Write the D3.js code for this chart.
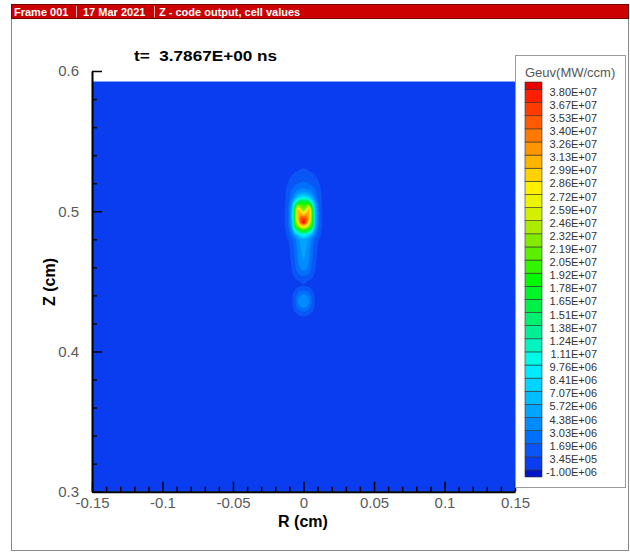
<!DOCTYPE html>
<html><head><meta charset="utf-8">
<script src="https://cdn.jsdelivr.net/npm/d3@7"></script>
<style>
body{margin:0;background:#fff;}
svg{display:block;font-family:"Liberation Sans",Arial,sans-serif;}
</style></head><body>
<svg id="chart" width="630" height="552"></svg>
<script>
// ---------- data ----------
const headerParts = ["Frame 001", "17 Mar 2021", "Z - code output, cell values"];
const titleText = "t=  3.7867E+00 ns";
const xLabel = "R (cm)";
const yLabel = "Z (cm)";
const legendTitle = "Geuv(MW/ccm)";

const xTicks = [-0.15, -0.1, -0.05, 0, 0.05, 0.1, 0.15];
const xTickLabels = ["-0.15", "-0.1", "-0.05", "0", "0.05", "0.1", "0.15"];
const yTicks = [0.3, 0.4, 0.5, 0.6];
const yTickLabels = ["0.3", "0.4", "0.5", "0.6"];

// contour levels (ascending) and their legend labels
const levels = [-1.00e6, 3.45e5, 1.69e6, 3.03e6, 4.38e6, 5.72e6, 7.07e6, 8.41e6, 9.76e6,
  1.11e7, 1.24e7, 1.38e7, 1.51e7, 1.65e7, 1.78e7, 1.92e7, 2.05e7, 2.19e7, 2.32e7, 2.46e7,
  2.59e7, 2.72e7, 2.86e7, 2.99e7, 3.13e7, 3.26e7, 3.40e7, 3.53e7, 3.67e7, 3.80e7];
const levelLabels = ["-1.00E+06", "3.45E+05", "1.69E+06", "3.03E+06", "4.38E+06", "5.72E+06",
  "7.07E+06", "8.41E+06", "9.76E+06", "1.11E+07", "1.24E+07", "1.38E+07", "1.51E+07",
  "1.65E+07", "1.78E+07", "1.92E+07", "2.05E+07", "2.19E+07", "2.32E+07", "2.46E+07",
  "2.59E+07", "2.72E+07", "2.86E+07", "2.99E+07", "3.13E+07", "3.26E+07", "3.40E+07",
  "3.53E+07", "3.67E+07", "3.80E+07"];
// band colours, lowest band (below -1e6) first
const bandColors = ["#0014c8", "#0a3cf0", "#0a55f5", "#0070fa", "#008cff", "#00a5ff",
  "#00beff", "#00d4ff", "#00ebff", "#00fae6", "#00f5c0", "#00f096", "#00f070", "#00f04a",
  "#00f528", "#00fa00", "#32f500", "#5af000", "#82eb00", "#aaeb00", "#d2f000", "#ebf500",
  "#fff000", "#ffd200", "#ffb400", "#ff9600", "#ff7800", "#ff5a00", "#ff3c00", "#ff1e00",
  "#e60000"];

// domain of the computed field
const rDomain = [-0.15, 0.15];
const zDomain = [0.3, 0.5925];
const backgroundValue = 0;

// half grid (r >= 0), mirrored about the axis r = 0
const rHalf = [0, 0.002, 0.004, 0.006, 0.008, 0.010, 0.012, 0.014, 0.016];
const zRows = [0.534, 0.531, 0.528, 0.525, 0.522, 0.519, 0.516, 0.513, 0.510, 0.507,
  0.504, 0.501, 0.498, 0.495, 0.492, 0.489, 0.486, 0.483, 0.480, 0.477, 0.474, 0.471,
  0.468, 0.465, 0.462, 0.459, 0.456, 0.453, 0.450, 0.447, 0.444, 0.441, 0.438, 0.435,
  0.432, 0.429, 0.426, 0.423, 0.420];
// Geuv values in units of 1e6 MW/ccm, one row per zRows entry, one column per rHalf entry
const geuvHalf = [
  [0, 0, 0, 0, 0, 0, 0, 0, 0],
  [0.3, 0.2, 0, 0, 0, 0, 0, 0, 0],
  [0.8, 0.7, 0.5, 0.3, 0, 0, 0, 0, 0],
  [1.2, 1.1, 1.0, 0.8, 0.5, 0, 0, 0, 0],
  [1.6, 1.5, 1.4, 1.2, 0.9, 0.5, 0, 0, 0],
  [2.0, 1.9, 1.8, 1.6, 1.3, 0.8, 0.2, 0, 0],
  [3.2, 3.0, 2.6, 2.2, 1.7, 1.1, 0.4, 0, 0],
  [5.0, 4.6, 4.0, 3.2, 2.2, 1.4, 0.5, 0, 0],
  [9.0, 8.5, 7.0, 5.0, 3.0, 1.6, 0.6, 0, 0],
  [17, 16, 14, 9, 4.5, 2.0, 0.7, 0, 0],
  [20, 21, 24, 15, 6, 2.4, 0.8, 0, 0],
  [22, 26, 31, 20, 7, 2.6, 0.9, 0.1, 0],
  [29, 31, 31, 21, 7.5, 2.8, 1.0, 0.1, 0],
  [36, 35, 30, 21, 7.5, 2.8, 1.0, 0.1, 0],
  [39, 35, 27, 20, 7, 2.6, 0.9, 0.1, 0],
  [28, 26, 22, 18, 6, 2.4, 0.8, 0, 0],
  [18, 17, 14, 10, 4.5, 2.0, 0.6, 0, 0],
  [10, 9, 7, 5, 3, 1.4, 0.4, 0, 0],
  [5.5, 5.0, 4.0, 2.8, 1.6, 0.7, 0, 0, 0],
  [5.0, 4.6, 3.6, 2.4, 1.2, 0.4, 0, 0, 0],
  [4.8, 4.4, 3.4, 2.2, 1.0, 0.3, 0, 0, 0],
  [4.6, 4.2, 3.2, 2.0, 0.9, 0.2, 0, 0, 0],
  [4.6, 4.2, 3.2, 2.0, 0.8, 0.2, 0, 0, 0],
  [4.4, 4.0, 3.0, 1.8, 0.7, 0, 0, 0, 0],
  [4.0, 3.7, 2.8, 1.6, 0.6, 0, 0, 0, 0],
  [3.4, 3.1, 2.4, 1.4, 0.5, 0, 0, 0, 0],
  [2.6, 2.4, 1.8, 1.0, 0.3, 0, 0, 0, 0],
  [1.4, 1.3, 0.9, 0.5, 0, 0, 0, 0, 0],
  [0.5, 0.4, 0.2, 0, 0, 0, 0, 0, 0],
  [0.3, 0.2, 0, 0, 0, 0, 0, 0, 0],
  [1.5, 1.3, 0.9, 0.4, 0, 0, 0, 0, 0],
  [3.0, 2.7, 2.0, 1.0, 0.2, 0, 0, 0, 0],
  [4.2, 3.8, 2.8, 1.4, 0.3, 0, 0, 0, 0],
  [4.4, 4.0, 3.0, 1.5, 0.3, 0, 0, 0, 0],
  [3.6, 3.2, 2.4, 1.2, 0.2, 0, 0, 0, 0],
  [2.0, 1.8, 1.3, 0.6, 0, 0, 0, 0, 0],
  [0.6, 0.5, 0.3, 0, 0, 0, 0, 0, 0],
  [0, 0, 0, 0, 0, 0, 0, 0, 0],
  [0, 0, 0, 0, 0, 0, 0, 0, 0]
];

// ---------- drawing ----------
const svg = d3.select("#chart");

// panel frame
svg.append("rect").attr("x", 11.5).attr("y", 4.5).attr("width", 617).attr("height", 546)
  .attr("fill", "#fff").attr("stroke", "#8a8a8a").attr("stroke-width", 1);

// header bar
svg.append("rect").attr("x", 11.5).attr("y", 4.5).attr("width", 617).attr("height", 14)
  .attr("fill", "#cc0000").attr("stroke", "#7a0000").attr("stroke-width", 1);
const hdrX = [14, 83, 159];
const sepX = [76.5, 154.5];
headerParts.forEach((t, i) => {
  svg.append("text").attr("x", hdrX[i]).attr("y", 15.5).attr("fill", "#fff")
    .attr("font-size", 11).attr("font-weight", "bold").text(t);
});
sepX.forEach(sx => svg.append("line").attr("x1", sx).attr("x2", sx).attr("y1", 6).attr("y2", 17.5)
  .attr("stroke", "#f0b0b0").attr("stroke-width", 1));

// scales
const x = d3.scaleLinear().domain(rDomain).range([92, 515]);
const y = d3.scaleLinear().domain([0.3, 0.6]).range([491.7, 71]);
const color = d3.scaleThreshold().domain(levels).range(bandColors);

// background field
svg.append("rect")
  .attr("x", x(rDomain[0])).attr("y", y(zDomain[1]))
  .attr("width", x(rDomain[1]) - x(rDomain[0])).attr("height", y(zDomain[0]) - y(zDomain[1]))
  .attr("fill", color(backgroundValue));

// build full mirrored grid
const nh = rHalf.length;
const nx = nh * 2 - 1, ny = zRows.length;
const values = new Array(nx * ny);
for (let j = 0; j < ny; j++) {
  for (let i = 0; i < nx; i++) {
    values[j * nx + i] = geuvHalf[j][Math.abs(i - (nh - 1))] * 1e6;
  }
}
const dr = rHalf[1] - rHalf[0];
const dz = zRows[1] - zRows[0];
const r0 = -rHalf[nh - 1];
const proj = d3.geoTransform({
  point: function (px, py) {
    this.stream.point(x(r0 + (px - 0.5) * dr), y(zRows[0] + (py - 0.5) * dz));
  }
});
const path = d3.geoPath(proj);
const thr = levels.filter(v => v > backgroundValue);
const contours = d3.contours().size([nx, ny]).thresholds(thr)(values);
svg.append("g").selectAll("path").data(contours).join("path")
  .attr("d", path)
  .attr("fill", d => color(d.value));

// axes
const tickColor = "#5a5a5a";
const gx = svg.append("g").attr("transform", `translate(0,${y(0.3)})`)
  .call(d3.axisBottom(x).tickValues(xTicks).tickFormat((d, i) => xTickLabels[i])
    .tickSize(-10).tickSizeOuter(0).tickPadding(6));
const minorX = d3.range(-15, 16).filter(k => k % 5 !== 0).map(k => k / 100);
svg.append("g").attr("transform", `translate(0,${y(0.3)})`)
  .call(d3.axisBottom(x).tickValues(minorX).tickFormat("").tickSize(-5).tickSizeOuter(0))
  .select(".domain").remove();

const gy = svg.append("g").attr("transform", `translate(${x(-0.15)},0)`)
  .call(d3.axisLeft(y).tickValues(yTicks).tickFormat((d, i) => yTickLabels[i])
    .tickSize(-10).tickSizeOuter(0).tickPadding(13));
const minorY = d3.range(30, 61, 2).filter(k => k % 10 !== 0).map(k => k / 100);
svg.append("g").attr("transform", `translate(${x(-0.15)},0)`)
  .call(d3.axisLeft(y).tickValues(minorY).tickFormat("").tickSize(-5).tickSizeOuter(0))
  .select(".domain").remove();

svg.selectAll(".domain").attr("stroke", "#000").attr("stroke-width", 2);
svg.selectAll(".tick line").attr("stroke", "#000").attr("stroke-width", 1.5);
[gx, gy].forEach(g => g.selectAll(".tick text").attr("font-size", 15)
  .attr("fill", tickColor).attr("font-family", "'Liberation Sans',Arial,sans-serif"));

// titles
svg.append("text").attr("x", 134).attr("y", 61).attr("font-size", 15).attr("font-weight", "bold")
  .attr("textLength", 143).attr("lengthAdjust", "spacingAndGlyphs")
  .style("white-space", "pre").text(titleText);
svg.append("text").attr("x", 303).attr("y", 527).attr("text-anchor", "middle")
  .attr("font-size", 16).attr("font-weight", "bold").text(xLabel);
svg.append("text").attr("transform", "translate(55,282) rotate(-90)").attr("text-anchor", "middle")
  .attr("font-size", 16).attr("font-weight", "bold").text(yLabel);

// legend
const lg = svg.append("g");
lg.append("rect").attr("x", 515.5).attr("y", 55.5).attr("width", 110).attr("height", 432)
  .attr("fill", "#fff").attr("stroke", "#9a9a9a");
lg.append("text").attr("x", 525).attr("y", 77).attr("font-size", 13).attr("fill", "#555")
  .text(legendTitle);
const step = 13.12, firstLabelY = 91.7, swX = 525, swW = 17;
const nL = levels.length;
const bounds = d3.range(nL).map(k => firstLabelY - 2.2 + k * step);
for (let b = 0; b <= nL; b++) {
  const k = nL - b;
  const top = k === 0 ? 82 : bounds[k - 1];
  const bot = k === nL ? 477 : bounds[k];
  lg.append("rect").attr("x", swX).attr("y", top).attr("width", swW).attr("height", bot - top)
    .attr("fill", bandColors[b]).attr("stroke", "#333").attr("stroke-width", 0.6);
}
levels.forEach((v, idx) => {
  const k = nL - 1 - idx;
  lg.append("text").attr("x", 597).attr("y", firstLabelY + k * step).attr("dy", "0.35em")
    .attr("text-anchor", "end").attr("font-size", 11).attr("fill", "#333")
    .text(levelLabels[idx]);
});
</script>
</body></html>
